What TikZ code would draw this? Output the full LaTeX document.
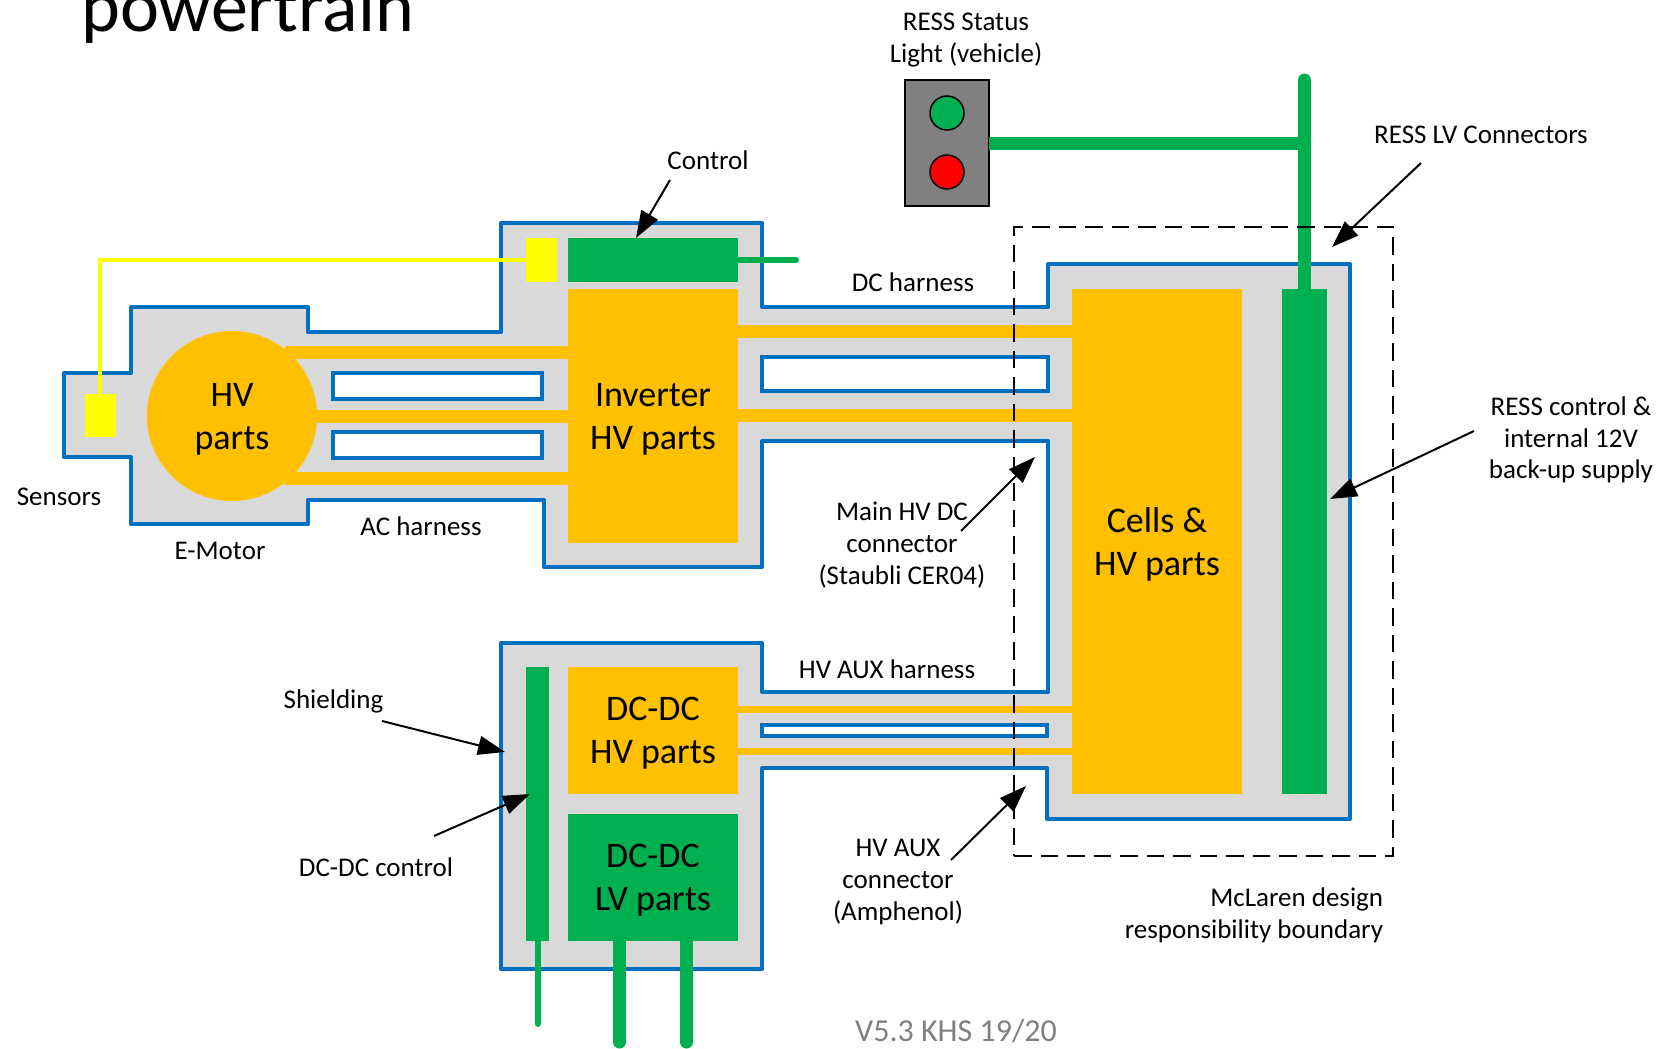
\documentclass[tikz,border=0pt]{standalone}
\usepackage{fontspec}
\setmainfont{Carlito}
\usetikzlibrary{arrows.meta}

\definecolor{shieldblue}{HTML}{0070C0}
\definecolor{shieldgrey}{HTML}{D9D9D9}
\definecolor{hvorange}{HTML}{FFC000}
\definecolor{lvgreen}{HTML}{00B050}
\definecolor{sensyellow}{HTML}{FFFF00}

\tikzstyle{part} = [rectangle, inner sep=0pt, outer sep=0pt, align=center, text depth=0pt, font=\fontsize{36}{43}\selectfont]
\tikzstyle{hv} = [part, fill=hvorange]
\tikzstyle{lv} = [part, fill=lvgreen]
\tikzstyle{sens} = [part, fill=sensyellow]
\tikzstyle{window} = [part, draw=shieldblue, fill=white, line width=4pt]
\tikzstyle{label} = [inner sep=0pt, align=center, yshift=-2pt, font=\fontsize{27}{31.7}\selectfont]
\tikzstyle{lamp} = [circle, draw=black, line width=1.5pt, minimum size=34pt, inner sep=0pt]
\tikzstyle{hvbar} = [hvorange, line width=13pt]
\tikzstyle{hvthin} = [hvorange, line width=7pt]
\tikzstyle{lvbar} = [lvgreen, line width=13pt, line cap=round]
\tikzstyle{lvthin} = [lvgreen, line width=6pt, line cap=round]
\tikzstyle{leader} = [-{Triangle[length=27pt,width=19pt]}, black, line width=2pt]

\begin{document}
\begin{tikzpicture}[x=1pt,y=-1pt]
\useasboundingbox (0,0) rectangle (1660,1049);

% shielding outline
\draw[shieldblue, fill=shieldgrey, line width=4pt, line join=round]
	(64,373) -- (131,373) -- (131,307) -- (308,307) -- (308,332) -- (501,332)
	-- (501,223) -- (762,223) -- (762,307) -- (1048,307) -- (1048,264)
	-- (1350,264) -- (1350,819) -- (1047,819) -- (1047,768) -- (762,768)
	-- (762,969) -- (501,969) -- (501,643) -- (762,643) -- (762,692)
	-- (1048,692) -- (1048,441) -- (762,441) -- (762,567) -- (544,567)
	-- (544,500) -- (308,500) -- (308,524) -- (131,524) -- (131,457)
	-- (64,457) -- cycle;

% harness windows
\node[window, minimum width=209, minimum height=26] (w1) at (437.5,386) {};
\node[window, minimum width=209, minimum height=26] (w2) at (437.5,445) {};
\node[window, minimum width=286, minimum height=34] (w3) at (905,374) {};
\node[window, minimum width=285, minimum height=11] (w4) at (904.5,730.5) {};

% parts
\node[lv, minimum width=170, minimum height=44] (ctrl) at (653,260) {};
\node[hv, minimum width=170, minimum height=254] (inv) at (653,416) {Inverter\\HV parts};
\node[hv, minimum width=170, minimum height=505] (cells) at (1157,541.5) {Cells \&\\HV parts};
\node[lv, minimum width=45, minimum height=505] (ressctrl) at (1304.5,541.5) {};
\node[hv, minimum width=170, minimum height=127] (dchv) at (653,730.5) {DC-DC\\HV parts};
\node[lv, minimum width=170, minimum height=127] (dclv) at (653,877.5) {DC-DC\\LV parts};
\node[lv, minimum width=23, minimum height=274] (dcctrl) at (537.5,804) {};
\node[sens, minimum width=31, minimum height=43] (sensa) at (100,415.5) {};
\node[sens, minimum width=31, minimum height=44] (sensb) at (541.5,260) {};

% AC harness, the motor goes over it
\coordinate (ac1) at (285,352.5);
\coordinate (ac2) at (285,478.5);
\draw[hvbar] (ac1) -- (ac1 -| inv.west);
\draw[hvbar] (ac2) -- (ac2 -| inv.west);
\node[hv, circle, minimum size=170] (motor) at (232,416) {HV\\parts};
\draw[hvbar] (motor.east) -- (inv.west |- motor.east);

% DC and HV AUX harness
\foreach \y in {331.5,415.5}
	\draw[hvbar] (inv.east |- 0,\y) -- (cells.west |- 0,\y);
\foreach \y in {709.5,751.5}
	\draw[hvthin] (dchv.east |- 0,\y) -- (cells.west |- 0,\y);

% status light
\node[part, draw=black, fill=black!50, line width=1.5pt, minimum width=84, minimum height=126] (light) at (947,143) {};
\node[lamp, fill=lvgreen] (go) at (947,113) {};
\node[lamp, fill=red] (stop) at (947,172) {};

% LV wiring
\coordinate (ctrlend) at (796,260);
\coordinate (resstop) at (1304.5,80);
\coordinate (shieldend) at (537.5,1024);
\draw[lvthin] (ctrl.east) -- (ctrlend);
\draw[lvbar] (ressctrl.north) -- (resstop);
\draw[lvgreen, line width=13pt] (light.east) -- (light.east -| ressctrl.north);
\draw[lvthin] (dcctrl.south) -- (shieldend);
\foreach \x in {619.5,686.5}
	\draw[lvbar] (dclv.south -| \x,0) -- (\x,1042);
\draw[sensyellow, line width=4pt] (sensa.north) |- (sensb.west);

% boundary
\node[draw=black, line width=2pt, dash pattern=on 17.5pt off 9pt, inner sep=0pt, minimum width=379, minimum height=629] (bound) at (1203.5,541.5) {};

% title and labels
\node[label, anchor=base west, yshift=2pt, font=\fontsize{74}{88}\selectfont] (title) at (81,32) {powertrain};
\node[label] (lstatus) at (966,38) {RESS Status\\Light (vehicle)};
\node[label] (lctrl) at (708,158) {Control};
\node[label] (lconn) at (1481,132.5) {RESS LV Connectors};
\node[label] (ldc) at (913,280) {DC harness};
\node[label] (lress) at (1571,438) {RESS control \&\\internal 12V\\back-up supply};
\node[label] (lsens) at (59,495) {Sensors};
\node[label] (lmotor) at (220,549) {E-Motor};
\node[label] (lac) at (421,524) {AC harness};
\node[label] (lmain) at (902,543) {Main HV DC\\connector\\(Staubli CER04)};
\node[label] (lshield) at (333.5,699) {Shielding};
\node[label] (laux) at (887,667) {HV AUX harness};
\node[label] (ldcctrl) at (376,865) {DC-DC control};
\node[label] (lauxc) at (898,880) {HV AUX\\connector\\(Amphenol)};
\node[label, align=right] (lbound) at (1254,913) {McLaren design\\responsibility boundary};
\node[label, text=black!50, font=\fontsize{32}{38}\selectfont] (version) at (956,1029) {V5.3 KHS 19/20};

% leaders
\coordinate (a1) at (670,180); \coordinate (b1) at (636,238);
\coordinate (a2) at (1421,163); \coordinate (b2) at (1332,247);
\coordinate (a3) at (1474,431); \coordinate (b3) at (1330,499);
\coordinate (a4) at (961,531); \coordinate (b4) at (1035,457);
\coordinate (a5) at (951,860); \coordinate (b5) at (1026,786);
\coordinate (a6) at (382,721); \coordinate (b6) at (505,752);
\coordinate (a7) at (434,836); \coordinate (b7) at (530,794);
\foreach \i in {1,...,7}
	\draw[leader] (a\i) -- (b\i);
\end{tikzpicture}
\end{document}
